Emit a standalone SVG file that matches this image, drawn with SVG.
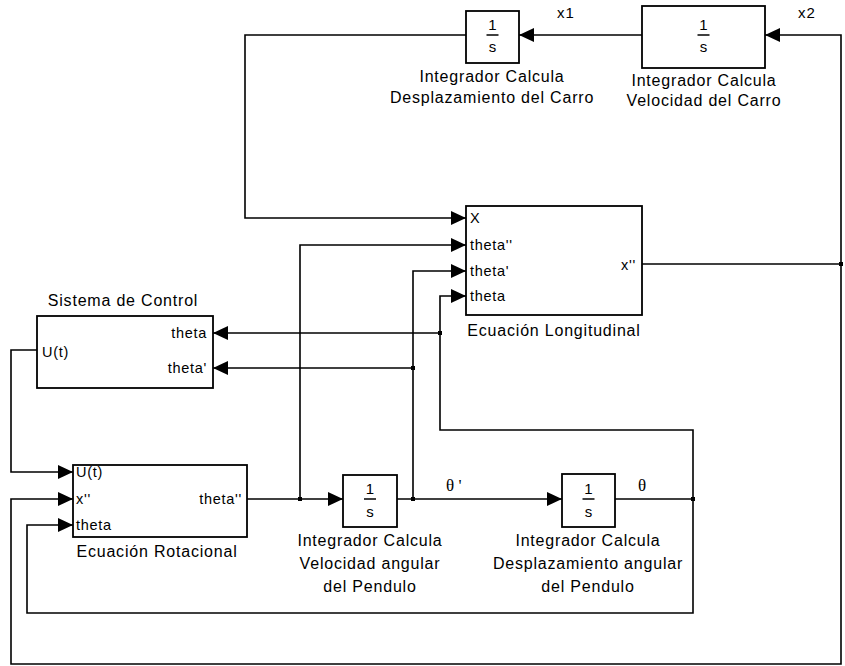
<svg xmlns="http://www.w3.org/2000/svg" width="845" height="666" viewBox="0 0 845 666">
<style>
.blk{fill:#fff;stroke:#000;stroke-width:1.8}
.wire{fill:none;stroke:#000;stroke-width:1.6}
.arr{fill:none;stroke:#000;stroke-width:1.6;marker-end:url(#ah)}
.dot{fill:#000}
.bar{stroke:#000;stroke-width:1.5}
text{font-family:"Liberation Sans",Arial,sans-serif;fill:#000}
.lbl{font-size:16px;letter-spacing:0.8px;text-anchor:middle}
.port{font-size:14.5px;letter-spacing:0.7px}
.end{text-anchor:end}
.frac{font-size:15px;text-anchor:middle}
.sig{font-size:15px;letter-spacing:1px}
.greek{font-family:"Liberation Serif","Times New Roman",serif;font-size:17px}
</style>
<defs>
<marker id="ah" markerUnits="userSpaceOnUse" markerWidth="16" markerHeight="14" refX="15" refY="7" orient="auto">
<path d="M0,0 L15,7 L0,14 z" fill="#000"/>
</marker>
</defs>

<g id="connectors">
<path class="wire" d="M642,264 L841,264"/>
<path class="arr" d="M841,264 L841,35 L765,35"/>
<path class="arr" d="M841,264 L841,664 L11,664 L11,499 L73,499"/>
<path class="arr" d="M642,35 L519,35"/>
<path class="arr" d="M466,35 L245,35 L245,218 L466,218"/>
<path class="arr" d="M247,499 L343,499"/>
<path class="arr" d="M300,499 L300,245 L466,245"/>
<path class="arr" d="M397,499 L562,499"/>
<path class="arr" d="M413,499 L413,271 L466,271"/>
<path class="arr" d="M413,368 L213,368"/>
<path class="wire" d="M615,499 L693,499"/>
<path class="arr" d="M693,499 L693,430 L440,430 L440,296 L466,296"/>
<path class="arr" d="M440,333 L213,333"/>
<path class="arr" d="M693,499 L693,613 L27,613 L27,525 L73,525"/>
<path class="arr" d="M37,350 L11,350 L11,472 L73,472"/>
<rect class="dot" x="839" y="262" width="4" height="4"/>
<rect class="dot" x="298" y="497" width="4" height="4"/>
<rect class="dot" x="411" y="497" width="4" height="4"/>
<rect class="dot" x="691" y="497" width="4" height="4"/>
<rect class="dot" x="438" y="331" width="4" height="4"/>
<rect class="dot" x="411" y="366" width="4" height="4"/>
<text class="sig" x="557" y="18">x1</text>
<text class="sig" x="798" y="18">x2</text>
<text class="greek" x="446" y="491">θ '</text>
<text class="greek" x="638" y="491">θ</text>
</g>

<g id="int_desplazamiento_carro">
<rect class="blk" x="466" y="11" width="53" height="52"/>
<text class="frac" x="492.5" y="30">1</text>
<line class="bar" x1="486.5" y1="35" x2="498.5" y2="35"/>
<text class="frac" x="492.5" y="52">s</text>
<text class="lbl" x="492" y="82">Integrador Calcula</text>
<text class="lbl" x="492" y="103">Desplazamiento del Carro</text>
</g>

<g id="int_velocidad_carro">
<rect class="blk" x="642" y="6" width="123" height="62"/>
<text class="frac" x="703.5" y="30">1</text>
<line class="bar" x1="697.5" y1="35" x2="709.5" y2="35"/>
<text class="frac" x="703.5" y="52">s</text>
<text class="lbl" x="704" y="86">Integrador Calcula</text>
<text class="lbl" x="704" y="106">Velocidad del Carro</text>
</g>

<g id="ecuacion_longitudinal">
<rect class="blk" x="466" y="206" width="176" height="109"/>
<text class="port" x="470" y="223">X</text>
<text class="port" x="470" y="250">theta''</text>
<text class="port" x="470" y="276">theta'</text>
<text class="port" x="470" y="301">theta</text>
<text class="port end" x="636" y="270">x''</text>
<text class="lbl" x="554" y="336">Ecuación Longitudinal</text>
</g>

<g id="sistema_control">
<rect class="blk" x="37" y="316" width="176" height="72"/>
<text class="lbl" x="123" y="306">Sistema de Control</text>
<text class="port end" x="207" y="338">theta</text>
<text class="port" x="42" y="357">U(t)</text>
<text class="port end" x="207" y="373">theta'</text>
</g>

<g id="ecuacion_rotacional">
<rect class="blk" x="73" y="465" width="174" height="72"/>
<text class="port" x="76" y="477">U(t)</text>
<text class="port" x="76" y="504">x''</text>
<text class="port" x="76" y="530">theta</text>
<text class="port end" x="242" y="504">theta''</text>
<text class="lbl" x="157" y="557">Ecuación Rotacional</text>
</g>

<g id="int_velocidad_angular">
<rect class="blk" x="343" y="475" width="54" height="52"/>
<text class="frac" x="370" y="494">1</text>
<line class="bar" x1="364" y1="499" x2="376" y2="499"/>
<text class="frac" x="370" y="517">s</text>
<text class="lbl" x="370" y="546">Integrador Calcula</text>
<text class="lbl" x="370" y="569">Velocidad angular</text>
<text class="lbl" x="370" y="592">del Pendulo</text>
</g>

<g id="int_desplazamiento_angular">
<rect class="blk" x="562" y="474" width="53" height="53"/>
<text class="frac" x="588.5" y="494">1</text>
<line class="bar" x1="582.5" y1="499" x2="594.5" y2="499"/>
<text class="frac" x="588.5" y="517">s</text>
<text class="lbl" x="588" y="546">Integrador Calcula</text>
<text class="lbl" x="588" y="569">Desplazamiento angular</text>
<text class="lbl" x="588" y="592">del Pendulo</text>
</g>
</svg>
